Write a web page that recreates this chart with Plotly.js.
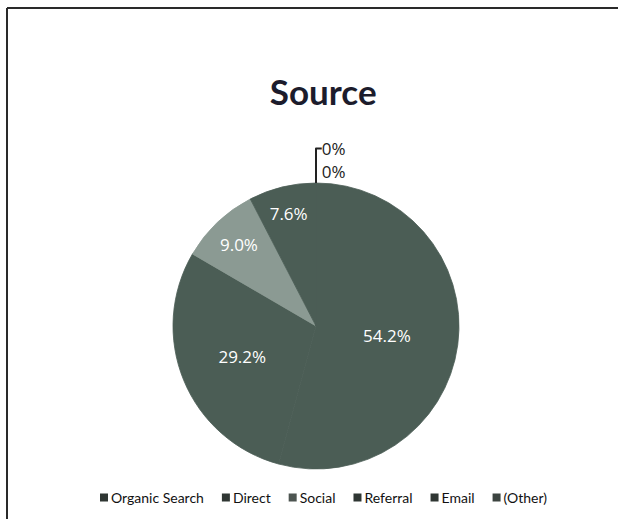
<!DOCTYPE html>
<html>
<head>
<meta charset="utf-8">
<script src="https://cdn.plot.ly/plotly-3.0.1.min.js"></script>
<style>
html,body{margin:0;padding:0;background:#fff;}
#chart{width:618px;height:519px;}
</style>
</head>
<body>
<div id="chart"></div>
<script>
const categories = ["Organic Search", "Direct", "Social", "Referral", "Email", "(Other)"];
const shares = [54.2, 29.2, 9.0, 7.6, 0, 0];
const chartTitle = "Source";

const sliceColors = ["#4b5d55", "#4b5d55", "#8b9a93", "#4b5d55", "#4b5d55", "#4b5d55"];
const legendSwatch = ["#2f3633", "#2f3633", "#4d5551", "#2f3633", "#2f3633", "#3c4440"];
const templates = shares.map(v => v === 0 ? "0%" : "%{value:.1f}%");
const positions = shares.map(v => v === 0 ? "outside" : "inside");

const W = 618, H = 519;
const cx = 316, cy = 326, r = 143;

const trace = {
  type: "pie",
  labels: categories,
  values: shares,
  sort: false,
  direction: "clockwise",
  rotation: 0,
  marker: {colors: sliceColors, line: {width: 0.8, color: sliceColors}},
  texttemplate: templates,
  textposition: positions,
  insidetextorientation: "horizontal",
  insidetextfont: {family: "Open Sans", size: 17, color: "#ffffff"},
  outsidetextfont: {family: "Open Sans", size: 17, color: "#222222"},
  hoverinfo: "none",
  domain: {x: [(cx - r) / W, (cx + r) / W], y: [1 - (cy + r) / H, 1 - (cy - r) / H]}
};

const layout = {
  width: W, height: H,
  margin: {l: 0, r: 0, t: 0, b: 0},
  paper_bgcolor: "#ffffff",
  title: {text: "<b>" + chartTitle + "</b>", font: {family: "Lato", size: 35, color: "#1c1c2c"}, x: 0.523, xanchor: "center", y: 1 - 93 / H, yanchor: "middle"},
  showlegend: true,
  legend: {orientation: "h", x: 0.54, xanchor: "center", y: 1 - 498 / H, yanchor: "middle",
           font: {family: "Lato", size: 14, color: "#111111"}, itemclick: false, itemdoubleclick: false},
  shapes: [
    {type: "line", xref: "paper", yref: "paper", x0: 7 / W, x1: 7 / W, y0: 0, y1: 1 - 8 / H, line: {color: "#2a2a2a", width: 2}},
    {type: "line", xref: "paper", yref: "paper", x0: 7 / W, x1: 1, y0: 1 - 8 / H, y1: 1 - 8 / H, line: {color: "#2a2a2a", width: 2}}
  ]
};

const gd = document.getElementById("chart");
Plotly.newPlot(gd, [trace], layout, {displayModeBar: false, staticPlot: true}).then(() => {
  try {
    const items = Array.from(gd.querySelectorAll(".legend .traces"));
    if (!items.length) return;
    const textStart = 27;
    const afterText = 2;
    const ys = [];
    items.forEach((it, i) => {
      const tr = it.getAttribute("transform") || "";
      const m = tr.match(/translate\(([-\d.e]+)[ ,]+([-\d.e]+)\)/);
      ys.push(m ? parseFloat(m[2]) : 0);
      const p = it.querySelector(".legendpoints path");
      if (p) {
        p.setAttribute("d", "M4,4H-4V-4H4Z");
        p.style.fill = legendSwatch[i];
        p.style.stroke = "none";
      }
      const t = it.querySelector("text.legendtext");
      if (t) {
        t.setAttribute("x", textStart);
        t.querySelectorAll("tspan").forEach(s => { if (s.hasAttribute("x")) s.setAttribute("x", textStart); });
      }
    });
    const widths = items.map(it => {
      const t = it.querySelector("text.legendtext");
      return t ? t.getBBox().width : 0;
    });
    const xs = [];
    let x = 0;
    items.forEach((it, i) => { xs.push(x); x += textStart + widths[i] + afterText; });
    items.forEach((it, i) => it.setAttribute("transform", "translate(" + xs[i] + "," + ys[i] + ")"));
    const p0 = items[0].querySelector(".legendpoints path");
    const left = p0.getBoundingClientRect().left - gd.getBoundingClientRect().left;
    const shift = 100 - left;
    items.forEach((it, i) => it.setAttribute("transform", "translate(" + (xs[i] + shift) + "," + ys[i] + ")"));
  } catch (e) {}
});
</script>
</body>
</html>
